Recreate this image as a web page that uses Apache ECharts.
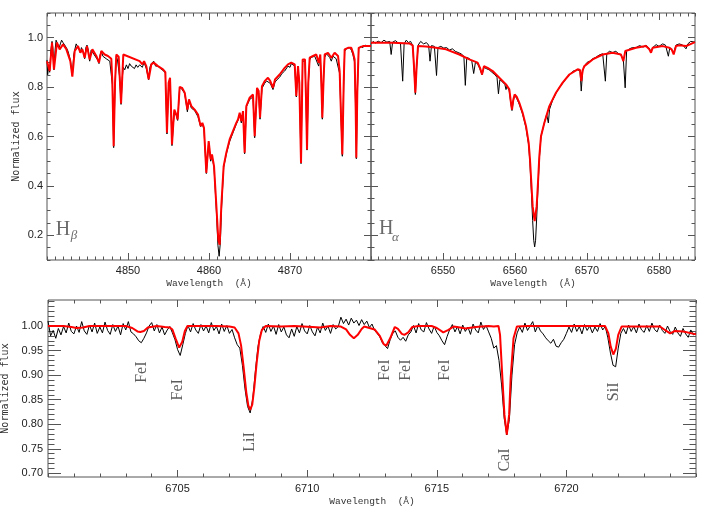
<!DOCTYPE html>
<html><head><meta charset="utf-8">
<script src="https://cdn.jsdelivr.net/npm/echarts@6/dist/echarts.min.js"></script>
<style>html,body{margin:0;padding:0;background:#fff}#c{width:709px;height:508px}</style>
</head><body><div id="c"></div>
<script>
// ---------- tick labels ----------
const hbTicks = [4850, 4860, 4870];
const haTicks = [6550, 6560, 6570, 6580];
const liTicks = [6705, 6710, 6715, 6720];
const topFluxTicks = [0.2, 0.4, 0.6, 0.8, 1.0];
const botFluxTicks = [0.70, 0.75, 0.80, 0.85, 0.90, 0.95, 1.00];

// ---------- H-beta panel ----------
const hbModel = [[4840.00,0.905],[4840.33,0.865],[4840.62,0.980],[4840.86,0.872],[4841.23,0.980],[4841.56,0.953],[4841.98,0.973],[4842.39,0.953],[4842.88,0.905],[4843.13,0.842],[4843.42,0.946],[4843.83,0.966],[4844.12,0.939],[4844.36,0.953],[4844.65,0.919],[4844.94,0.966],[4845.27,0.912],[4845.60,0.953],[4846.09,0.926],[4846.42,0.899],[4846.71,0.946],[4847.12,0.932],[4847.53,0.926],[4847.94,0.915],[4848.07,0.818],[4848.23,0.561],[4848.40,0.818],[4848.56,0.932],[4848.85,0.923],[4848.97,0.845],[4849.14,0.734],[4849.30,0.845],[4849.42,0.932],[4851.44,0.905],[4851.77,0.892],[4851.98,0.905],[4852.26,0.885],[4852.55,0.831],[4852.88,0.892],[4853.17,0.899],[4853.70,0.885],[4854.32,0.872],[4854.61,0.861],[4854.81,0.615],[4855.02,0.818],[4855.19,0.838],[4855.31,0.709],[4855.43,0.568],[4855.60,0.655],[4855.72,0.709],[4855.97,0.689],[4856.13,0.669],[4856.38,0.801],[4856.67,0.797],[4857.00,0.777],[4857.33,0.709],[4857.53,0.750],[4857.82,0.723],[4858.23,0.709],[4858.64,0.689],[4858.97,0.642],[4859.18,0.655],[4859.38,0.635],[4859.67,0.453],[4859.96,0.581],[4860.21,0.507],[4860.37,0.527],[4860.62,0.480],[4860.91,0.318],[4861.15,0.182],[4861.32,0.162],[4861.52,0.318],[4861.81,0.480],[4862.14,0.534],[4862.55,0.588],[4862.96,0.622],[4863.37,0.655],[4863.58,0.669],[4863.79,0.696],[4863.99,0.662],[4864.20,0.703],[4864.40,0.534],[4864.61,0.723],[4865.02,0.757],[4865.43,0.770],[4865.64,0.601],[4865.93,0.797],[4866.13,0.784],[4866.30,0.676],[4866.54,0.804],[4866.87,0.824],[4867.28,0.838],[4867.57,0.824],[4867.90,0.797],[4868.15,0.831],[4868.72,0.851],[4869.34,0.878],[4869.75,0.892],[4870.16,0.899],[4870.58,0.892],[4870.78,0.764],[4870.99,0.885],[4871.15,0.818],[4871.36,0.493],[4871.56,0.912],[4871.85,0.912],[4871.98,0.750],[4872.10,0.547],[4872.26,0.818],[4872.43,0.919],[4872.84,0.926],[4873.25,0.932],[4873.54,0.899],[4873.74,0.932],[4873.87,0.818],[4873.99,0.676],[4874.16,0.845],[4874.28,0.932],[4874.69,0.939],[4875.10,0.919],[4875.51,0.939],[4875.93,0.926],[4876.13,0.865],[4876.30,0.682],[4876.46,0.527],[4876.63,0.818],[4876.75,0.953],[4877.16,0.959],[4877.57,0.959],[4877.78,0.939],[4877.98,0.912],[4878.11,0.709],[4878.19,0.514],[4878.31,0.777],[4878.48,0.959],[4879.01,0.966],[4880.00,0.966]];
const hbObs = [[4840.00,0.91],[4840.08,0.85],[4840.18,0.88],[4840.33,0.86],[4840.48,0.95],[4840.62,0.985],[4840.72,0.96],[4840.86,0.87],[4841.00,0.95],[4841.12,0.99],[4841.23,0.985],[4841.35,0.996],[4841.50,0.96],[4841.65,0.975],[4841.80,0.99],[4841.98,0.98],[4842.15,0.985],[4842.39,0.96],[4842.60,0.945],[4842.88,0.91],[4843.13,0.845],[4843.30,0.93],[4843.42,0.95],[4843.60,0.975],[4843.83,0.97],[4844.00,0.95],[4844.12,0.94],[4844.25,0.96],[4844.36,0.955],[4844.50,0.94],[4844.65,0.915],[4844.80,0.96],[4844.94,0.97],[4845.10,0.95],[4845.27,0.905],[4845.45,0.95],[4845.60,0.955],[4845.85,0.93],[4846.09,0.925],[4846.25,0.91],[4846.42,0.895],[4846.55,0.93],[4846.71,0.945],[4846.90,0.925],[4847.12,0.93],[4847.30,0.915],[4847.53,0.92],[4847.75,0.905],[4847.94,0.91],[4848.07,0.81],[4848.23,0.555],[4848.40,0.81],[4848.56,0.925],[4848.70,0.91],[4848.85,0.915],[4848.97,0.84],[4849.14,0.73],[4849.30,0.84],[4849.42,0.88],[4849.60,0.87],[4849.80,0.89],[4850.00,0.875],[4850.20,0.895],[4850.40,0.885],[4850.60,0.89],[4850.80,0.875],[4851.00,0.89],[4851.20,0.88],[4851.44,0.89],[4851.77,0.88],[4851.98,0.90],[4852.15,0.885],[4852.26,0.875],[4852.55,0.83],[4852.70,0.88],[4852.88,0.895],[4853.00,0.90],[4853.17,0.905],[4853.40,0.885],[4853.70,0.885],[4854.00,0.875],[4854.32,0.868],[4854.61,0.857],[4854.81,0.61],[4855.02,0.815],[4855.19,0.835],[4855.31,0.705],[4855.43,0.563],[4855.60,0.65],[4855.72,0.70],[4855.97,0.685],[4856.13,0.665],[4856.38,0.80],[4856.50,0.805],[4856.67,0.79],[4857.00,0.775],[4857.33,0.70],[4857.53,0.745],[4857.82,0.715],[4858.23,0.705],[4858.64,0.68],[4858.97,0.64],[4859.18,0.65],[4859.38,0.63],[4859.67,0.45],[4859.96,0.575],[4860.21,0.50],[4860.37,0.52],[4860.62,0.475],[4860.91,0.30],[4861.10,0.16],[4861.25,0.115],[4861.40,0.17],[4861.55,0.31],[4861.81,0.475],[4862.14,0.53],[4862.55,0.58],[4862.96,0.615],[4863.37,0.65],[4863.58,0.665],[4863.79,0.69],[4863.99,0.655],[4864.20,0.70],[4864.40,0.53],[4864.61,0.72],[4865.02,0.75],[4865.43,0.76],[4865.64,0.595],[4865.93,0.79],[4866.13,0.775],[4866.30,0.67],[4866.54,0.795],[4866.87,0.815],[4867.10,0.825],[4867.28,0.83],[4867.57,0.815],[4867.90,0.79],[4868.15,0.82],[4868.40,0.83],[4868.72,0.84],[4869.00,0.855],[4869.34,0.865],[4869.55,0.87],[4869.75,0.885],[4870.00,0.88],[4870.16,0.895],[4870.40,0.90],[4870.58,0.885],[4870.78,0.76],[4870.99,0.88],[4871.15,0.81],[4871.36,0.49],[4871.56,0.905],[4871.70,0.91],[4871.85,0.905],[4871.98,0.745],[4872.10,0.545],[4872.26,0.81],[4872.43,0.91],[4872.60,0.92],[4872.84,0.915],[4873.05,0.925],[4873.25,0.925],[4873.54,0.885],[4873.74,0.925],[4873.87,0.81],[4873.99,0.67],[4874.16,0.84],[4874.28,0.92],[4874.50,0.935],[4874.69,0.93],[4874.90,0.92],[4875.10,0.905],[4875.30,0.925],[4875.51,0.93],[4875.70,0.915],[4875.93,0.915],[4876.13,0.855],[4876.30,0.675],[4876.46,0.52],[4876.63,0.81],[4876.75,0.945],[4876.95,0.955],[4877.16,0.95],[4877.35,0.96],[4877.57,0.95],[4877.78,0.93],[4877.98,0.90],[4878.11,0.70],[4878.19,0.51],[4878.31,0.77],[4878.48,0.955],[4878.70,0.965],[4879.01,0.96],[4879.30,0.97],[4879.60,0.965],[4880.00,0.97]];

// ---------- H-alpha panel ----------
const haModel = [[6540.00,0.980],[6543.01,0.980],[6545.32,0.977],[6545.79,0.969],[6545.97,0.885],[6546.16,0.777],[6546.34,0.885],[6546.53,0.966],[6547.64,0.964],[6549.03,0.959],[6550.42,0.953],[6552.27,0.932],[6553.66,0.912],[6554.81,0.899],[6555.14,0.878],[6555.42,0.851],[6555.69,0.885],[6556.20,0.878],[6556.90,0.865],[6557.82,0.838],[6558.75,0.811],[6559.21,0.791],[6559.44,0.736],[6559.58,0.709],[6559.77,0.750],[6559.95,0.770],[6560.23,0.761],[6560.60,0.736],[6561.06,0.696],[6561.53,0.642],[6561.90,0.574],[6562.08,0.507],[6562.27,0.412],[6562.45,0.318],[6562.73,0.257],[6563.01,0.318],[6563.19,0.412],[6563.38,0.520],[6563.61,0.601],[6564.07,0.655],[6564.77,0.723],[6565.69,0.777],[6566.62,0.818],[6567.55,0.851],[6568.70,0.872],[6569.03,0.869],[6569.21,0.824],[6569.40,0.869],[6569.63,0.885],[6570.79,0.912],[6572.18,0.932],[6573.56,0.939],[6574.72,0.932],[6575.05,0.905],[6575.32,0.946],[6576.81,0.959],[6578.19,0.966],[6578.66,0.953],[6578.89,0.939],[6579.12,0.959],[6580.51,0.966],[6581.44,0.959],[6581.76,0.953],[6582.04,0.932],[6582.36,0.966],[6582.82,0.969],[6583.75,0.966],[6585.00,0.982]];
const haObs = [[6540.0,0.975],[6540.3,0.985],[6540.6,0.978],[6541.0,0.986],[6541.4,0.98],[6541.8,0.99],[6542.2,0.982],[6542.6,0.985],[6542.8,0.932],[6543.0,0.982],[6543.4,0.988],[6543.8,0.978],[6544.1,0.975],[6544.4,0.824],[6544.6,0.975],[6544.9,0.99],[6545.2,0.98],[6545.5,0.985],[6545.8,0.968],[6545.97,0.88],[6546.16,0.77],[6546.34,0.88],[6546.55,0.97],[6546.9,0.985],[6547.3,0.975],[6547.7,0.98],[6548.0,0.97],[6548.2,0.905],[6548.4,0.968],[6548.8,0.965],[6549.1,0.847],[6549.3,0.96],[6549.7,0.965],[6550.1,0.958],[6550.5,0.96],[6550.9,0.95],[6551.3,0.955],[6551.7,0.945],[6552.1,0.94],[6552.5,0.935],[6552.9,0.925],[6553.1,0.807],[6553.3,0.92],[6553.7,0.915],[6554.0,0.905],[6554.26,0.855],[6554.5,0.90],[6554.8,0.895],[6555.1,0.875],[6555.42,0.85],[6555.7,0.88],[6556.0,0.875],[6556.4,0.87],[6556.8,0.86],[6557.2,0.85],[6557.5,0.84],[6557.7,0.773],[6557.9,0.83],[6558.3,0.82],[6558.6,0.81],[6558.75,0.79],[6558.9,0.805],[6559.2,0.785],[6559.44,0.73],[6559.58,0.705],[6559.77,0.745],[6559.95,0.765],[6560.23,0.755],[6560.6,0.73],[6561.06,0.69],[6561.53,0.635],[6561.9,0.565],[6562.08,0.49],[6562.27,0.38],[6562.45,0.26],[6562.6,0.18],[6562.73,0.153],[6562.86,0.18],[6563.01,0.27],[6563.19,0.39],[6563.38,0.51],[6563.61,0.60],[6564.07,0.655],[6564.4,0.69],[6564.63,0.655],[6564.8,0.71],[6565.2,0.745],[6565.69,0.775],[6566.2,0.80],[6566.62,0.815],[6567.1,0.835],[6567.55,0.85],[6568.1,0.865],[6568.7,0.87],[6569.03,0.865],[6569.2,0.784],[6569.4,0.865],[6569.63,0.885],[6570.0,0.90],[6570.4,0.905],[6570.79,0.915],[6571.2,0.92],[6571.7,0.93],[6572.18,0.935],[6572.55,0.824],[6572.75,0.935],[6573.1,0.945],[6573.56,0.94],[6574.0,0.945],[6574.4,0.935],[6574.72,0.93],[6575.05,0.91],[6575.3,0.797],[6575.5,0.945],[6575.9,0.955],[6576.3,0.96],[6576.81,0.96],[6577.3,0.968],[6577.8,0.962],[6578.19,0.97],[6578.66,0.955],[6578.89,0.945],[6579.12,0.96],[6579.6,0.972],[6580.0,0.965],[6580.51,0.975],[6580.9,0.97],[6581.3,0.925],[6581.5,0.96],[6581.76,0.955],[6582.04,0.94],[6582.36,0.97],[6582.82,0.975],[6583.3,0.97],[6583.75,0.955],[6584.0,0.975],[6584.4,0.985],[6585.0,0.982]];

// ---------- Li region panel ----------
const liModel = [[6700.00,1.000],[6700.60,1.000],[6700.90,0.998],[6701.10,0.996],[6701.35,0.997],[6701.60,1.000],[6702.50,1.000],[6703.00,1.000],[6703.25,0.996],[6703.45,0.989],[6703.56,0.988],[6703.70,0.990],[6703.85,0.997],[6704.20,1.000],[6704.50,0.998],[6704.70,0.997],[6704.80,0.993],[6704.92,0.975],[6705.06,0.956],[6705.18,0.968],[6705.28,0.990],[6705.38,1.000],[6706.50,1.000],[6707.00,0.999],[6707.20,0.997],[6707.35,0.985],[6707.45,0.960],[6707.55,0.915],[6707.65,0.865],[6707.73,0.838],[6707.80,0.829],[6707.88,0.840],[6707.96,0.875],[6708.05,0.925],[6708.15,0.970],[6708.25,0.992],[6708.40,1.000],[6709.00,0.999],[6709.50,1.000],[6710.20,0.998],[6710.50,0.997],[6710.90,1.000],[6711.30,0.999],[6711.50,0.993],[6711.65,0.982],[6711.80,0.975],[6711.95,0.982],[6712.10,0.994],[6712.20,0.999],[6712.40,0.996],[6712.60,0.993],[6712.80,0.980],[6712.95,0.963],[6713.05,0.960],[6713.20,0.975],[6713.38,0.998],[6713.50,0.994],[6713.65,0.984],[6713.75,0.982],[6713.90,0.987],[6714.05,0.998],[6714.30,1.000],[6714.80,1.000],[6715.00,0.996],[6715.25,0.987],[6715.45,0.992],[6715.65,0.999],[6715.90,0.997],[6716.10,0.995],[6716.50,0.998],[6717.00,1.000],[6717.20,0.999],[6717.38,1.000],[6717.44,0.982],[6717.53,0.894],[6717.61,0.819],[6717.70,0.779],[6717.79,0.819],[6717.85,0.894],[6717.96,0.975],[6718.09,0.999],[6718.50,1.000],[6719.50,1.000],[6720.50,1.000],[6721.30,1.000],[6721.49,1.000],[6721.62,0.985],[6721.71,0.958],[6721.81,0.942],[6721.91,0.954],[6722.00,0.982],[6722.13,0.999],[6723.61,0.999],[6723.80,0.992],[6724.00,0.985],[6724.19,0.990],[6724.51,0.989],[6725.00,0.983]];
const liObsStart = 6700.0, liObsStep = 0.1;
const liObsFlux = [
 1.010,0.980,0.991,0.975,0.995,0.982,0.999,0.986,1.006,0.989,
 0.984,1.000,0.987,1.009,0.990,0.983,1.002,0.988,1.006,0.985,
 0.998,0.986,1.008,0.991,0.983,1.003,0.989,1.000,0.982,1.005,
 0.992,1.009,0.988,0.984,0.978,0.970,0.966,0.975,0.986,1.000,
 1.007,0.990,1.003,0.986,0.998,0.982,0.992,0.999,0.986,0.972,
 0.952,0.940,0.962,0.985,1.001,0.988,1.005,0.992,0.985,1.003,
 0.990,1.000,0.986,1.007,0.991,0.999,0.984,1.004,0.989,1.001,
 0.985,0.993,0.976,0.962,0.955,0.920,0.872,0.836,0.823,0.852,
 0.908,0.958,0.984,0.999,0.987,1.004,0.989,1.000,0.983,1.003,
 0.988,0.998,0.982,0.976,0.994,0.979,0.999,0.986,1.005,0.990,
 0.984,1.001,0.988,0.980,0.998,0.986,1.006,0.991,1.000,0.985,
 1.003,0.994,0.999,1.018,1.005,1.014,1.002,1.016,1.006,1.012,
 1.001,1.013,1.003,1.010,0.997,1.004,0.991,0.985,0.978,0.966,
 0.960,0.954,0.972,0.985,0.990,0.977,0.971,0.977,0.969,0.982,
 0.988,1.001,0.986,1.005,0.992,0.988,1.007,0.994,0.985,1.000,
 0.987,0.980,0.970,0.962,0.979,0.993,1.003,0.988,0.999,0.984,
 1.002,0.989,0.998,0.983,1.004,0.992,0.986,1.008,0.993,1.001,
 0.988,0.975,0.955,0.960,0.930,0.880,0.812,0.778,0.810,0.900,
 0.962,0.986,0.998,0.987,1.006,0.991,1.000,1.009,0.988,1.001,
 0.990,0.984,0.976,0.970,0.965,0.973,0.959,0.957,0.966,0.973,
 0.985,0.998,0.987,1.004,0.989,0.999,0.984,1.003,0.991,1.000,
 0.986,0.998,0.989,1.005,0.992,0.999,0.976,0.945,0.920,0.917,
 0.955,0.985,0.995,0.984,1.002,0.989,0.999,0.986,1.004,0.992,
 0.987,1.001,0.989,1.006,0.993,0.988,1.002,0.991,0.985,1.000,
 0.989,0.983,0.998,0.986,0.979,0.995,0.984,0.977,0.992,0.982,
 0.986];
const lineLabels = ['FeI','FeI','LiI','FeI','FeI','FeI','CaI','SiI'];
const lineLabelWave = [6703.6, 6705.0, 6707.8, 6712.98, 6713.8, 6715.32, 6717.61, 6721.81];
const lineLabelFlux = [0.906, 0.870, 0.764, 0.910, 0.910, 0.910, 0.727, 0.866];
// panel tags: letter, subscript, [x,y] of "H", [x,y] of subscript
const panelTagMain = ['H', 'H'];
const panelTagSub = ['β', 'α'];
const panelTagMainPos = [[4841.07, 0.223], [6541.11, 0.226]];
const panelTagSubPos = [[4842.93, 0.200], [6542.92, 0.192]];

// ---------- chart ----------
const FRAME = '#555';
const tickStyle = {color: FRAME, width: 1};
const tickFont = {color: '#222', fontSize: 11, fontFamily: 'Liberation Sans'};
const yNameStyle = {color: '#333', fontSize: 10, fontFamily: 'DejaVu Sans Mono'};
const xNameStyle = {color: '#333', fontSize: 9.5, fontFamily: 'Liberation Mono'};

function makeAxes(dim, g, min, max, majorVals, minorInterval, minorVals, majLen, minLen, label, name, nameGap, nameStyle) {
  const sides = dim === 'x' ? ['bottom', 'top'] : ['left', 'right'];
  const out = [];
  sides.forEach((pos, si) => {
    const base = {gridIndex: g, type: 'value', min: min, max: max, position: pos,
      axisLine: {show: false}, splitLine: {show: false}, axisPointer: {show: false}};
    const major = Object.assign({}, base, {
      axisTick: {show: true, inside: true, length: majLen, customValues: majorVals, lineStyle: tickStyle},
      axisLabel: (si === 0 && label) ? Object.assign({show: true, customValues: majorVals}, label) : {show: false}
    });
    if (si === 0 && name) Object.assign(major, {name: name, nameLocation: 'middle', nameGap: nameGap,
      nameRotate: dim === 'y' ? 90 : 0, nameTextStyle: nameStyle});
    out.push(major);
    const minor = Object.assign({}, base, {
      axisTick: Object.assign({show: true, inside: true, length: minLen, lineStyle: tickStyle}, minorVals ? {customValues: minorVals} : {}),
      axisLabel: {show: false}
    });
    if (!minorVals) minor.interval = minorInterval;
    out.push(minor);
  });
  return out;
}

const botFluxMinor = [];
for (let k = 70; k <= 105; k++) botFluxMinor.push(k / 100);

const xFmt0 = v => String(Math.round(v));
const yFmt1 = v => v.toFixed(1);
const yFmt2 = v => v.toFixed(2);

const xAxes = [].concat(
  makeAxes('x', 0, 4840, 4880, hbTicks, 1, null, 7, 3.5, Object.assign({margin: 5, formatter: xFmt0}, tickFont), 'Wavelength  (Å)', 18, xNameStyle),
  makeAxes('x', 1, 6540, 6585, haTicks, 1, null, 7, 3.5, Object.assign({margin: 5, formatter: xFmt0}, tickFont), 'Wavelength  (Å)', 18, xNameStyle),
  makeAxes('x', 2, 6700, 6725, liTicks, 1, null, 7, 3.5, Object.assign({margin: 6, formatter: xFmt0}, tickFont), 'Wavelength  (Å)', 19, xNameStyle)
);
const yAxes = [].concat(
  makeAxes('y', 0, 0.1, 1.1, topFluxTicks, 0.05, null, 7, 3.5, Object.assign({margin: 4, formatter: yFmt1}, tickFont), 'Normalized flux', 26, yNameStyle),
  makeAxes('y', 1, 0.1, 1.1, topFluxTicks, 0.05, null, 7, 3.5, null, null, 0, null),
  makeAxes('y', 2, 0.6925, 1.053, botFluxTicks, 0, botFluxMinor, 13, 6.5, Object.assign({margin: 5, formatter: yFmt2}, tickFont), 'Normalized flux', 33, yNameStyle)
);

function lineSeries(ax, data, color, width, z) {
  return {type: 'line', xAxisIndex: ax, yAxisIndex: ax, data: data, symbol: 'none', showSymbol: false,
    lineStyle: {color: color, width: width}, itemStyle: {color: color}, silent: true, z: z, clip: true, animation: false};
}
function textSeries(ax, data, label) {
  return {type: 'scatter', xAxisIndex: ax, yAxisIndex: ax, silent: true, animation: false, z: 5,
    data: data, symbolSize: 1, itemStyle: {color: 'transparent'},
    label: Object.assign({show: true, position: 'inside', formatter: p => p.data[2]}, label)};
}

const liObs = liObsFlux.map((f, i) => [+(liObsStart + liObsStep * i).toFixed(2), f]);

const series = [
  lineSeries(0, hbObs, '#000', 1, 2),
  lineSeries(0, hbModel, '#ff0000', 2, 3),
  lineSeries(4, haObs, '#000', 1, 2),
  lineSeries(4, haModel, '#ff0000', 2, 3),
  lineSeries(8, liObs, '#000', 1, 2),
  lineSeries(8, liModel, '#ff0000', 2, 3),
  textSeries(8, lineLabels.map((t, i) => [lineLabelWave[i], lineLabelFlux[i], t]),
    {rotate: 90, fontFamily: 'Liberation Serif', fontSize: 16, color: '#333'})
];
[0, 1].forEach(i => {
  series.push(textSeries(i * 4, [[panelTagMainPos[i][0], panelTagMainPos[i][1], panelTagMain[i]]],
    {align: 'left', verticalAlign: 'middle', fontFamily: 'Liberation Serif', fontSize: 20, color: '#444'}));
  series.push(textSeries(i * 4, [[panelTagSubPos[i][0], panelTagSubPos[i][1], panelTagSub[i]]],
    {align: 'left', verticalAlign: 'middle', fontFamily: 'Liberation Serif', fontSize: 13, fontStyle: 'italic', color: '#444'}));
});

const gridCommon = {show: true, borderColor: FRAME, borderWidth: 1, containLabel: false, outerBoundsMode: 'none'};
const chart = echarts.init(document.getElementById('c'), null, {renderer: 'canvas'});
chart.setOption({
  animation: false,
  backgroundColor: '#fff',
  grid: [
    Object.assign({left: 47, top: 13, width: 324, height: 247}, gridCommon),
    Object.assign({left: 371, top: 13, width: 324, height: 247}, gridCommon),
    Object.assign({left: 48, top: 300, width: 648, height: 177}, gridCommon)
  ],
  xAxis: xAxes,
  yAxis: yAxes,
  series: series
});
</script></body></html>
